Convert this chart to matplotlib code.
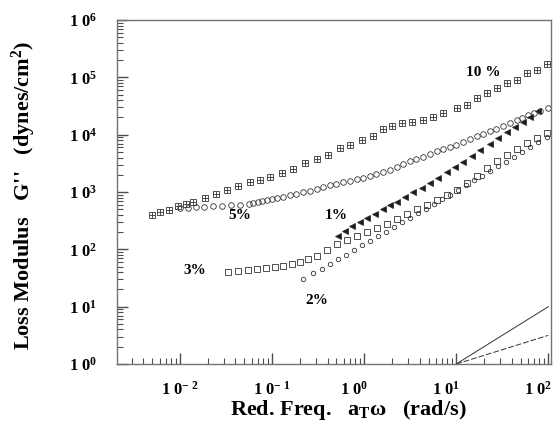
import matplotlib
matplotlib.use("Agg")
import matplotlib.pyplot as plt
import matplotlib.transforms as mtransforms
from matplotlib.ticker import FixedLocator, FixedFormatter, LogLocator, NullFormatter

plt.rcParams['font.family'] = ['Liberation Serif', 'DejaVu Serif']
plt.rcParams['font.weight'] = 'bold'
plt.rcParams['mathtext.fontset'] = 'custom'
plt.rcParams['mathtext.rm'] = 'Liberation Serif:bold'
plt.rcParams['mathtext.it'] = 'Liberation Serif:bold:italic'
plt.rcParams['mathtext.bf'] = 'Liberation Serif:bold'
plt.rcParams['mathtext.default'] = 'rm'

# 10 % (squares with cross)
w_10 = [0.00496, 0.00607, 0.00759, 0.00951, 0.0116, 0.0138, 0.0187, 0.0246, 0.0324, 0.0427,
        0.0577, 0.0741, 0.0951, 0.128, 0.169, 0.229, 0.308, 0.406, 0.548, 0.705,
        0.951, 1.25, 1.61, 2.01, 2.59, 3.33, 4.38, 5.62, 7.22, 10.3,
        13.2, 16.9, 21.7, 27.9, 35.8, 46.0, 59.1, 75.9, 97.5]
g_10 = [397, 448, 486, 570, 618, 670, 787, 923, 1084, 1274,
        1496, 1622, 1829, 2148, 2518, 3206, 3767, 4425, 5861, 6607,
        8072, 9484, 12560, 14160, 15990, 16630, 18030, 20340, 23880, 29170,
        32940, 43650, 53330, 65160, 79620, 89950, 119100, 134400, 171000]

# 5 % (open circles)
w_5 = [0.0100, 0.0122, 0.0149, 0.0182, 0.0229, 0.0286, 0.0358, 0.0449, 0.0562, 0.0621,
       0.0705, 0.0778, 0.0883, 0.100, 0.113, 0.132, 0.157, 0.182, 0.217, 0.259,
       0.308, 0.358, 0.427, 0.496, 0.591, 0.705, 0.839, 0.976, 1.16, 1.35,
       1.61, 1.92, 2.28, 2.65, 3.16, 3.67, 4.38, 5.22, 6.21, 7.22,
       8.61, 10.0, 11.9, 14.2, 16.9, 19.7, 23.4, 27.2, 32.4, 38.6,
       46.0, 52.1, 60.6, 70.4, 81.8, 100]
g_5 = [526, 526, 548, 548, 570, 570, 593, 593, 618, 643,
       670, 697, 726, 755, 787, 818, 887, 923, 1000, 1042,
       1130, 1222, 1324, 1380, 1496, 1556, 1687, 1754, 1901, 2061,
       2233, 2421, 2729, 3083, 3474, 3767, 4083, 4603, 5192, 5623,
       6100, 6607, 7452, 8414, 9484, 10280, 11590, 12560, 14160, 15990,
       18030, 19540, 22030, 23880, 25880, 29170]

# 1 % (filled triangles)
w_1 = [0.522, 0.621, 0.741, 0.905, 1.08, 1.32, 1.61, 1.92, 2.28, 2.79,
       3.41, 4.27, 5.22, 6.37, 7.98, 9.75, 11.9, 14.9, 18.2, 23.4,
       28.6, 35.8, 43.8, 53.5, 63.7, 77.9]
g_1 = [171, 209, 255, 300, 352, 413, 506, 593, 670, 818,
       1000, 1175, 1436, 1754, 2233, 2729, 3337, 4246, 5405, 6874,
       8750, 11140, 13610, 16630, 20340, 25880]

# 3 % (open squares)
w_3 = [0.0333, 0.0427, 0.0548, 0.0687, 0.0861, 0.108, 0.132, 0.165, 0.201, 0.246,
       0.308, 0.396, 0.509, 0.653, 0.839, 1.08, 1.38, 1.78, 2.28, 2.93,
       3.77, 4.84, 6.21, 7.98, 10.3, 13.2, 16.9, 21.7, 27.9, 35.8,
       46.0, 59.1, 75.9, 97.5]
g_3 = [40.3, 41.9, 43.6, 45.4, 47.3, 49.2, 51.2, 55.5, 60.1, 67.9,
       76.6, 97.4, 124, 146, 171, 201, 236, 277, 338, 413,
       506, 593, 726, 887, 1084, 1436, 1901, 2624, 3474, 4425,
       5623, 7161, 8750, 10690]

# 2 % (small circles)
w_2 = [0.217, 0.279, 0.349, 0.427, 0.522, 0.637, 0.778, 0.951, 1.16, 1.42,
       1.73, 2.12, 2.59, 3.16, 3.86, 4.72, 5.77, 7.05, 8.61, 10.5,
       12.8, 15.7, 19.2, 23.4, 28.6, 34.9, 42.7, 52.1, 63.7, 77.9, 97.5]
g_2 = [30.4, 38.7, 45.4, 55.5, 67.9, 79.7, 97.4, 119, 140, 171,
       201, 245, 300, 352, 430, 506, 618, 755, 887, 1084,
       1324, 1619, 1901, 2323, 2844, 3337, 4083, 4989, 6100, 7452, 9100]

# slope guide lines (slope 1 and 1/2)
guide_w = [10, 100]
guide_slope1 = [1, 10]
guide_slope_half = [1, 3.16]

x_ticks = [1e-2, 1e-1, 1e0, 1e1, 1e2]
x_tick_labels = [r'1 0$^{-\ 2}$', r'1 0$^{-\ 1}$', r'1 0$^{0}$', r'1 0$^{1}$', r'1 0$^{2}$']
y_ticks = [1e0, 1e1, 1e2, 1e3, 1e4, 1e5, 1e6]
y_tick_labels = [r'1 0$^{%d}$' % i for i in range(7)]

series_labels = ['10 %', '5%', '1%', '3%', '2%']
label_pos = [(19.6, 1.2e5), (0.045, 390), (0.50, 390), (0.0145, 43), (0.31, 13)]

fig = plt.figure(figsize=(5.59, 4.26), dpi=100)
ax = fig.add_axes([0.2093, 0.1455, 0.7764, 0.8075])
ax.set_xscale('log')
ax.set_yscale('log')

mk = dict(linestyle='none', markeredgecolor='0.2', markeredgewidth=0.6)
ax.plot(w_10, g_10, marker='s', markersize=4.8, markerfacecolor='none', **mk)
ax.plot(w_10, g_10, marker='+', markersize=4.8, color='0.2', **mk)
ax.plot(w_5, g_5, marker='o', markersize=4, markerfacecolor='none', **mk)
ax.plot(w_1, g_1, marker='<', markersize=4, markerfacecolor='0.1', **mk)
ax.plot(w_3, g_3, marker='s', markersize=4.5, markerfacecolor='none', **mk)
ax.plot(w_2, g_2, marker='o', markersize=3.2, markerfacecolor='none', **mk)

ax.plot(guide_w, guide_slope1, color='0.2', linewidth=0.7)
ax.plot(guide_w, guide_slope_half, color='0.2', linewidth=0.7, dashes=(6, 2))

for txt, (px, py) in zip(series_labels, label_pos):
    ax.text(px, py, txt, fontsize=11, fontweight='bold', ha='center', va='center')

ax.set_xlim(2.07e-3, 107)
ax.set_ylim(1, 1e6)

ax.xaxis.set_major_locator(FixedLocator(x_ticks))
ax.xaxis.set_major_formatter(FixedFormatter(x_tick_labels))
ax.yaxis.set_major_locator(FixedLocator(y_ticks))
ax.yaxis.set_major_formatter(FixedFormatter(y_tick_labels))
ax.xaxis.set_minor_locator(LogLocator(base=10, subs=range(2, 10), numticks=20))
ax.yaxis.set_minor_locator(LogLocator(base=10, subs=range(2, 10), numticks=20))
ax.xaxis.set_minor_formatter(NullFormatter())
ax.yaxis.set_minor_formatter(NullFormatter())

ax.tick_params(which='both', direction='in', top=False, right=False, color='0.3')
ax.tick_params(which='major', length=8, width=1, labelsize=12)
ax.tick_params(axis='y', which='major', pad=14)
ax.tick_params(axis='x', which='major', pad=12)
ax.tick_params(which='minor', length=4, width=0.8)
for sp in ax.spines.values():
    sp.set_color('0.45')
    sp.set_linewidth(1.0)

# shift the non-negative x tick labels a bit to the left like in the original
shift = mtransforms.ScaledTranslation(-10 / 100, 0, fig.dpi_scale_trans)
for lab, val in zip(ax.get_xticklabels(), x_ticks):
    if val >= 1:
        lab.set_transform(lab.get_transform() + shift)

ax.set_xlabel(r'Red. Freq.   a$_{\rm T}$ω   (rad/s)', fontsize=16, fontweight='bold')
ax.set_ylabel(r"Loss Modulus   G''   (dynes/cm$^2$)", fontsize=16, fontweight='bold')
ax.xaxis.set_label_coords(0.532, -0.1)
ax.yaxis.set_label_coords(-0.182, 0.49)

fig.savefig('out.png', dpi=100)
